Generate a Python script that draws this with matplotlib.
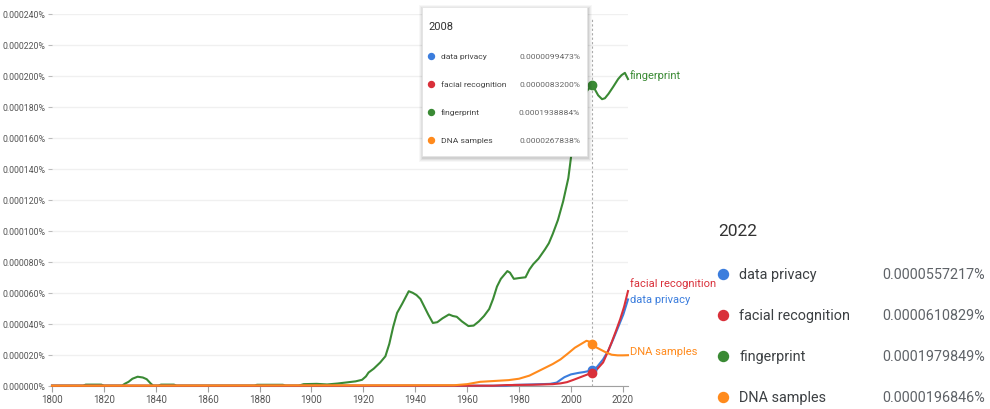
import matplotlib
matplotlib.use("Agg")
import matplotlib.pyplot as plt
from matplotlib import font_manager
from matplotlib.patches import Rectangle
from matplotlib.ticker import FuncFormatter, MultipleLocator

installed = {f.name for f in font_manager.fontManager.ttflist}
FONT = next((n for n in ["Liberation Sans Narrow", "Roboto", "DejaVu Sans"] if n in installed), "DejaVu Sans")
plt.rcParams['font.family'] = [FONT, 'DejaVu Sans']

# values in percent
names = ["data privacy", "facial recognition", "fingerprint", "DNA samples"]
colors = ["#3b7ddd", "#d9303a", "#3a8a34", "#ff8a1c"]

privacy_years = [1800, 1975, 1978, 1985, 1992, 1994.5, 1996, 1997.5, 2000, 2003, 2005, 2007, 2008,
                 2010, 2012.4, 2014.5, 2016.3, 2018.5, 2020.2, 2022]
privacy_vals = [0, 0, 0.5e-6, 0.8e-6, 1.2e-6, 2e-6, 3.8e-6, 5.5e-6, 7.3e-6, 8.3e-6, 8.8e-6, 9.5e-6, 9.95e-6,
                12e-6, 17e-6, 23e-6, 30e-6, 39e-6, 46e-6, 55.7e-6]

facial_years = [1800, 1970, 1975, 1985, 1993, 1996, 1998.5, 2001, 2003.5, 2006, 2008,
                2010, 2012.4, 2014, 2015.7, 2017.5, 2019, 2020.5, 2022]
facial_vals = [0, 0, 0.4e-6, 0.6e-6, 1.0e-6, 1.5e-6, 2.3e-6, 3.8e-6, 5.4e-6, 7e-6, 8.32e-6,
               10.5e-6, 15e-6, 21e-6, 28e-6, 36e-6, 43e-6, 51e-6, 61.1e-6]

finger_years = [1800, 1812, 1813, 1819, 1820, 1827, 1828, 1829.5, 1831, 1833, 1835, 1836.5, 1838, 1839,
                1841, 1842, 1847, 1848, 1878, 1879, 1889, 1890, 1895, 1897, 1902, 1906, 1910, 1914,
                1917, 1919.5, 1921, 1922, 1924, 1926.5, 1928.5, 1930, 1931.5, 1933, 1935, 1937.5, 1939,
                1940.5, 1942, 1943.5, 1945, 1946.8, 1948.5, 1950.5, 1953, 1954.5, 1956, 1958, 1960.5,
                1962.5, 1964.5, 1966.5, 1968.5, 1970, 1971.5, 1973, 1975.5, 1976.5, 1978, 1980, 1982.5,
                1984, 1985.5, 1987.5, 1990, 1991.5, 1993, 1995, 1997, 1999, 2000.3, 2002, 2004, 2006,
                2008, 2009, 2010.5, 2012, 2013.1, 2014.5, 2016.3, 2018.2, 2019.5, 2020.8, 2022]
finger_vals = [0, 0, 0.7e-6, 0.7e-6, 0, 0, 1.2e-6, 2.5e-6, 4.5e-6, 5.8e-6, 5.3e-6, 4.2e-6, 1.5e-6, 0,
               0, 0.7e-6, 0.7e-6, 0, 0, 0.6e-6, 0.6e-6, 0, 0, 1.0e-6, 1.2e-6, 0.8e-6, 1.4e-6, 2.2e-6,
               2.8e-6, 3.8e-6, 6e-6, 8.5e-6, 11e-6, 15e-6, 19e-6, 27e-6, 38e-6, 47e-6, 53e-6, 61e-6, 60e-6,
               58.5e-6, 56e-6, 51e-6, 46e-6, 40.5e-6, 41e-6, 43.5e-6, 46e-6, 45e-6, 44.5e-6, 41.5e-6, 38.5e-6,
               38.8e-6, 41.5e-6, 45e-6, 49.5e-6, 56e-6, 64e-6, 69e-6, 74e-6, 73e-6, 69e-6, 69.5e-6, 70e-6,
               75e-6, 78.5e-6, 82e-6, 88e-6, 92e-6, 98e-6, 107e-6, 119e-6, 134e-6, 151e-6, 166e-6, 179e-6, 190e-6,
               193.9e-6, 192e-6, 187.5e-6, 185e-6, 185.6e-6, 188.5e-6, 193e-6, 198e-6, 200.5e-6, 202e-6, 198e-6]

dna_years = [1800, 1955, 1960, 1965, 1970, 1976, 1980, 1984, 1987, 1990, 1993, 1996, 1999, 2001.5,
             2004, 2006, 2007, 2008, 2009.5, 2011.2, 2013.5, 2015.7, 2018, 2020, 2022]
dna_vals = [0, 0.3e-6, 1.0e-6, 2.5e-6, 3.0e-6, 3.6e-6, 4.5e-6, 6.5e-6, 9e-6, 11.5e-6, 14e-6, 17e-6, 21e-6, 24.5e-6,
            27e-6, 29e-6, 28.5e-6, 26.8e-6, 25e-6, 23.5e-6, 21.5e-6, 20e-6, 19.6e-6, 19.6e-6, 19.7e-6]

hover_year = 2008
hover_vals = ["0.0000099473%", "0.0000083200%", "0.0001938884%", "0.0000267838%"]
hover_nums = [0.0000099473, 0.0000083200, 0.0001938884, 0.0000267838]
end_year = 2022
end_vals = ["0.0000557217%", "0.0000610829%", "0.0001979849%", "0.0000196846%"]
end_nums = [0.0000557217, 0.0000610829, 0.0001979849, 0.0000196846]

W, H = 990, 410
fig = plt.figure(figsize=(W / 100, H / 100), dpi=100)


def fx(px):
    return px / W


def fy(py):
    return 1 - py / H


ax = fig.add_axes([fx(52), fy(386.7), fx(628) - fx(52), fy(15) - fy(386.7)])
ax.set_xlim(1800, 2022)
ax.set_ylim(0, 0.00024)
ax.xaxis.set_major_locator(MultipleLocator(20))
ax.yaxis.set_major_locator(MultipleLocator(0.00002))
ax.yaxis.set_major_formatter(FuncFormatter(lambda v, p: f"{v:.6f}%"))
for s in ["top", "right", "left"]:
    ax.spines[s].set_visible(False)
ax.spines["bottom"].set_color("#a0a0a0")
ax.tick_params(axis="y", length=3, width=0.8, color="#bbbbbb", labelsize=6.3, labelcolor="#555555", pad=1.5)
ax.tick_params(axis="x", length=4, width=0.8, color="#a0a0a0", labelsize=7, labelcolor="#555555", pad=2)
ax.yaxis.grid(True, color="#f0f0f0", lw=1)
ax.set_axisbelow(True)

series = [(privacy_years, privacy_vals), (facial_years, facial_vals),
          (finger_years, finger_vals), (dna_years, dna_vals)]
zorders = [3, 4, 2, 5]
for (xs, ys), c, z in zip(series, colors, zorders):
    ax.plot(xs, ys, color=c, lw=1.5, zorder=z, clip_on=False, solid_joinstyle="round")

ax.axvline(hover_year, ymax=0.99, color="#aaaaaa", lw=0.8, ls=(0, (2, 2)), zorder=1)
for v, c, z in zip(hover_nums, colors, zorders):
    ax.plot([hover_year], [v], "o", color=c, ms=6, zorder=z + 1)

label_dy = [0, 9, 5, 4]
for name, v, c, dy in zip(names, end_nums, colors, label_dy):
    ax.annotate(name, xy=(end_year, v), xytext=(2, dy), textcoords="offset pixels",
                va="center", ha="left", fontsize=8, color=c, annotation_clip=False)

# overlay in pixel coordinates for tooltip and legend
ov = fig.add_axes([0, 0, 1, 1])
ov.set_xlim(0, W)
ov.set_ylim(H, 0)
ov.axis("off")

bx0, by0, bx1, by1 = 421.7, 8.3, 586.7, 156.7
for pad, a in [(4, 0.03), (3, 0.04), (2, 0.05), (1, 0.07)]:
    ov.add_patch(Rectangle((bx0 - pad + 1, by0 - pad + 2), bx1 - bx0 + 2 * pad, by1 - by0 + 2 * pad,
                           facecolor="black", edgecolor="none", alpha=a, zorder=8))
ov.add_patch(Rectangle((bx0, by0), bx1 - bx0, by1 - by0, facecolor="white",
                       edgecolor="#e4e4e4", lw=0.5, zorder=9))
ov.text(428, 27, str(hover_year), fontsize=8, color="#333333", va="center", ha="left", zorder=10)
row_y = [57.3, 85, 112.7, 140.7]
for name, val, c, y in zip(names, hover_vals, colors, row_y):
    ov.plot([430.7], [y], "o", color=c, ms=4.3, zorder=10)
    ov.text(440.7, y, name, fontsize=6.1, color="#444444", va="center", ha="left", zorder=10)
    ov.text(580, y, val, fontsize=6.1, color="#666666", va="center", ha="right", zorder=10)

ov.text(718, 231.7, str(end_year), fontsize=12.5, color="#333333", va="center", ha="left")
leg_y = [275, 316, 356.7, 398.3]
for name, val, c, y in zip(names, end_vals, colors, leg_y):
    ov.plot([723.3], [y], "o", color=c, ms=7.2)
    ov.text(739.3, y, name, fontsize=10.4, color="#3c4043", va="center", ha="left")
    ov.text(985, y, val, fontsize=10.4, color="#5f6368", va="center", ha="right")

fig.savefig("out.png", dpi=100)
